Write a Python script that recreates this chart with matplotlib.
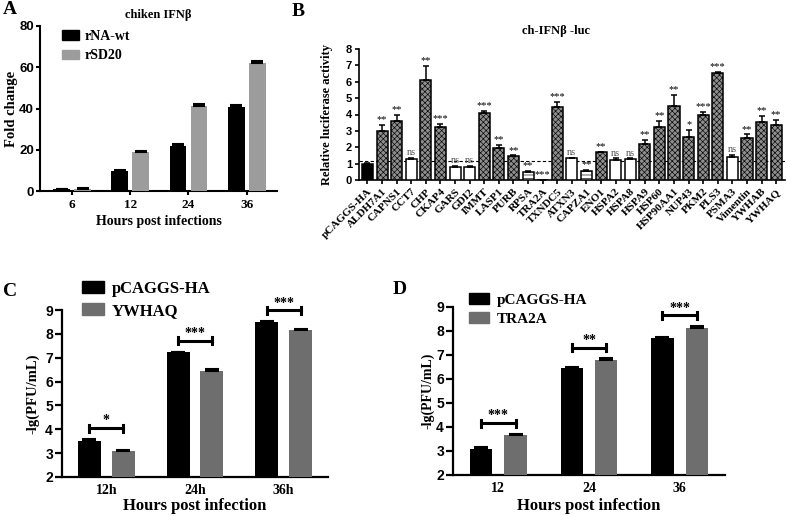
import matplotlib
matplotlib.use('Agg')
import matplotlib.pyplot as plt
import numpy as np
from matplotlib.patches import Patch

plt.rcParams['hatch.linewidth'] = 0.45
SERIF = ['Liberation Serif', 'DejaVu Serif']
SANS = ['Liberation Sans', 'DejaVu Sans']

# ---------------- Panel A data ----------------
a_hours = ['6', '12', '24', '36']
a_wt = [0.8, 9.5, 21.7, 40.5]
a_wt_err = [0.3, 0.6, 1.1, 1.2]
a_sd20 = [1.0, 18.8, 41.0, 62.0]
a_sd20_err = [0.4, 0.7, 1.1, 1.0]

# ---------------- Panel B data ----------------
b_genes = ['pCAGGS-HA', 'ALDH7A1', 'CAPNS1', 'CCT7', 'CHP', 'CKAP4', 'GARS', 'GDI2',
           'IMMT', 'LASP1', 'PURB', 'RPSA', 'TRA2A', 'TXNDC5', 'ATXN3', 'CAPZA1',
           'ENO1', 'HSPA2', 'HSPA8', 'HSPA9', 'HSP60', 'HSP90AA1', 'NUP43', 'PKM2',
           'PLS3', 'PSMA3', 'Vimentin', 'YWHAB', 'YWHAQ']
b_vals = [1.0, 3.0, 3.63, 1.28, 6.1, 3.22, 0.82, 0.82,
          4.08, 1.97, 1.45, 0.51, 0.03, 4.47, 1.32, 0.55,
          1.69, 1.22, 1.26, 2.2, 3.25, 4.5, 2.64, 4.0,
          6.54, 1.38, 2.58, 3.55, 3.35]
b_errs = [0.05, 0.35, 0.37, 0.06, 0.87, 0.23, 0.05, 0.04,
          0.14, 0.17, 0.05, 0.06, 0.0, 0.3, 0.05, 0.06,
          0.05, 0.1, 0.06, 0.22, 0.35, 0.72, 0.4, 0.17,
          0.04, 0.13, 0.2, 0.37, 0.3]
b_sig = ['', '**', '**', 'ns', '**', '***', 'ns', 'ns',
         '***', '**', '**', '**', '***', '***', 'ns', '**',
         '**', 'ns', 'ns', '**', '**', '**', '*', '***',
         '***', 'ns', '**', '**', '**']
b_threshold = 1.15

# ---------------- Panel C data ----------------
c_times = ['12h', '24h', '36h']
c_ctrl = [3.5, 7.22, 8.5]
c_ctrl_err = [0.1, 0.04, 0.04]
c_ywhaq = [3.08, 6.43, 8.15]
c_ywhaq_err = [0.07, 0.09, 0.04]
c_sig = ['*', '***', '***']

# ---------------- Panel D data ----------------
d_times = ['12', '24', '36']
d_ctrl = [3.1, 6.46, 7.72]
d_ctrl_err = [0.08, 0.03, 0.05]
d_tra2a = [3.65, 6.78, 8.11]
d_tra2a_err = [0.06, 0.08, 0.09]
d_sig = ['***', '**', '***']

W, H = 787, 516
fig = plt.figure(figsize=(W / 100, H / 100), dpi=100)


def ax_px(l, t, r, b):
    ax = fig.add_axes([l / W, 1 - b / H, (r - l) / W, (b - t) / H])
    ax._px = (l, t, r, b)
    return ax


def place_labels(ax, ylab_x, xlab_y=None):
    l, t, r, b = ax._px
    ax.yaxis.set_label_coords((ylab_x - l) / (r - l), 0.5)
    ax.yaxis.label.set_va('center')
    if xlab_y is not None:
        ax.xaxis.set_label_coords(0.5, (b - xlab_y) / (b - t))
        ax.xaxis.label.set_va('center')


def style_axes(ax, tick_size=9.5, lw=1.5, pad=1.5, length=3):
    for s in ['top', 'right']:
        ax.spines[s].set_visible(False)
    for s in ['left', 'bottom']:
        ax.spines[s].set_linewidth(lw)
    ax.tick_params(width=lw, length=length, labelsize=tick_size, pad=pad)
    for lab in ax.get_yticklabels():
        lab.set_fontfamily(SANS)
        lab.set_fontweight('bold')


def up_err(ax, x, y, e, cap=4, lw=1.5):
    ax.errorbar(x, y, yerr=[np.zeros(len(e)), e], fmt='none', ecolor='black',
                elinewidth=lw, capsize=cap, capthick=lw, zorder=4)


# ================= Panel A =================
axA = ax_px(40, 26, 277, 191)
xa = np.arange(len(a_hours))
wa, oa = 0.29, 0.18
axA.bar(xa - oa, a_wt, wa, color='black', zorder=3)
axA.bar(xa + oa, a_sd20, wa, color='#9c9c9c', zorder=3)
up_err(axA, xa - oa, a_wt, a_wt_err, cap=4)
up_err(axA, xa + oa, a_sd20, a_sd20_err, cap=4)
axA.set_xlim(-0.55, 3.52)
axA.set_ylim(0, 80)
axA.set_yticks([0, 20, 40, 60, 80])
axA.set_xticks(xa)
axA.set_xticklabels(a_hours, fontfamily=SERIF, fontweight='bold', fontsize=10)
style_axes(axA)
axA.tick_params(axis='x', pad=3)
axA.set_ylabel('Fold change', fontfamily=SERIF, fontweight='bold', fontsize=10.5)
axA.set_xlabel('Hours post infections', fontfamily=SERIF, fontweight='bold', fontsize=10)
place_labels(axA, 12, 222)
axA.set_title('chiken IFNβ', fontfamily=SERIF, fontweight='bold', fontsize=9, pad=6)
axA.legend(handles=[Patch(color='black', label='rNA-wt'), Patch(color='#9c9c9c', label='rSD20')],
           loc='upper left', bbox_to_anchor=(62 / W, 1 - 30 / H), bbox_transform=fig.transFigure,
           frameon=False, borderpad=0, borderaxespad=0,
           prop={'family': SERIF, 'weight': 'bold', 'size': 10},
           handlelength=1.25, handleheight=0.7, handletextpad=0.4, labelspacing=0.45)

# ================= Panel B =================
axB = ax_px(359, 49, 785, 180)
xb = np.arange(len(b_genes))
wb = 0.76
for i, (v, s) in enumerate(zip(b_vals, b_sig)):
    if s == '':
        fc, hatch = 'black', None
    elif s == 'ns':
        fc, hatch = 'white', None
    elif v < 1:
        fc, hatch = 'white', '-----'
    else:
        fc, hatch = '#8e8e8e', 'xxxxxx'
    axB.bar(xb[i], v, wb, facecolor=fc, edgecolor='black', hatch=hatch, linewidth=1.1, zorder=3)
up_err(axB, xb, b_vals, b_errs, cap=2.2, lw=1.1)
for i, (v, e, s) in enumerate(zip(b_vals, b_errs, b_sig)):
    if s:
        col = '#555555' if s == 'ns' else 'black'
        axB.text(xb[i], v + e + 0.05, s, ha='center', va='bottom', fontsize=7.5,
                 fontfamily=SERIF, color=col, zorder=5)
axB.axhline(b_threshold, color='black', lw=0.8, ls=(0, (3, 2)), zorder=2)
axB.set_xlim(-0.58, 28.6)
axB.set_ylim(0, 8)
axB.set_yticks(range(0, 9))
axB.set_xticks(xb)
axB.set_xticklabels(b_genes, rotation=45, ha='right', rotation_mode='anchor',
                    fontfamily=SERIF, fontweight='bold', fontsize=6.3)
style_axes(axB, tick_size=8, lw=1.2, pad=2)
axB.tick_params(axis='x', length=3, pad=2)
axB.set_ylabel('Relative luciferase activity', fontfamily=SERIF, fontweight='bold', fontsize=9)
place_labels(axB, 327)
fig.text(556 / W, 1 - 31 / H, 'ch-IFNβ -luc', fontfamily=SERIF, fontweight='bold', fontsize=9,
         ha='center', va='center')


# ================= Panels C & D =================
def panel_cd(ax, times, ctrl, ctrl_err, treat, treat_err, sig, tlabel, width, off,
             legend_xy, ylab_x, xlab_y, ylab_size, leg_size):
    x = np.arange(len(times))
    ax.bar(x - off, ctrl, width, color='black', zorder=3)
    ax.bar(x + off, treat, width, color='#6e6e6e', zorder=3)
    up_err(ax, x - off, ctrl, ctrl_err, cap=5)
    up_err(ax, x + off, treat, treat_err, cap=5)
    for i in range(len(times)):
        top = max(ctrl[i] + ctrl_err[i], treat[i] + treat_err[i]) + 0.45
        ax.plot([x[i] - off, x[i] + off], [top, top], color='black', lw=2.2, zorder=4, clip_on=False)
        for xx in (x[i] - off, x[i] + off):
            ax.plot([xx, xx], [top - 0.15, top + 0.15], color='black', lw=2.2, zorder=4, clip_on=False)
        ax.text(x[i], top + 0.3, sig[i], ha='center', va='center', fontsize=10,
                fontfamily=SERIF, fontweight='bold', clip_on=False)
    ax.set_xlim(-0.5, 2.5)
    ax.set_ylim(2, 9)
    ax.set_yticks(range(2, 10))
    ax.set_xticks(x)
    ax.set_xticklabels(times, fontfamily=SERIF, fontweight='bold', fontsize=11)
    style_axes(ax, tick_size=10, lw=1.6, pad=1.5, length=5)
    ax.tick_params(axis='x', length=0, pad=5)
    ax.set_ylabel('-lg(PFU/mL)', fontfamily=SERIF, fontweight='bold', fontsize=ylab_size)
    ax.set_xlabel('Hours post infection', fontfamily=SERIF, fontweight='bold', fontsize=12)
    place_labels(ax, ylab_x, xlab_y)
    ax.legend(handles=[Patch(color='black', label='pCAGGS-HA'), Patch(color='#6e6e6e', label=tlabel)],
              loc='upper left', bbox_to_anchor=legend_xy, bbox_transform=fig.transFigure,
              frameon=False, borderpad=0, borderaxespad=0,
              prop={'family': SERIF, 'weight': 'bold', 'size': leg_size},
              handlelength=1.3, handleheight=0.7, handletextpad=0.5, labelspacing=0.35)


axC = ax_px(62, 310, 328, 477)
panel_cd(axC, c_times, c_ctrl, c_ctrl_err, c_ywhaq, c_ywhaq_err, c_sig, 'YWHAQ',
         0.26, 0.19, (82 / W, 1 - 281 / H), 33, 506, 10.5, 12)

axD = ax_px(453, 307, 725, 475)
panel_cd(axD, d_times, d_ctrl, d_ctrl_err, d_tra2a, d_tra2a_err, d_sig, 'TRA2A',
         0.245, 0.19, (469 / W, 1 - 293 / H), 428, 506, 10, 11)

# Panel letters
for lab, (px, py) in zip('ABCD', [(3, 10), (292, 12), (3, 291), (393, 290)]):
    fig.text(px / W, 1 - py / H, lab, fontfamily=SERIF, fontweight='bold', fontsize=14,
             ha='left', va='center')

fig.savefig('out.png', dpi=100)
